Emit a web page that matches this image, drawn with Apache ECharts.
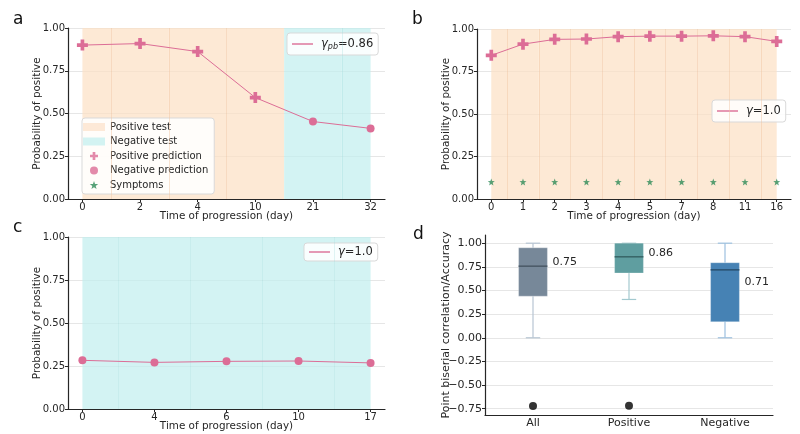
<!DOCTYPE html>
<html><head><meta charset="utf-8">
<script src="https://cdn.jsdelivr.net/npm/echarts@6/dist/echarts.min.js"></script>
<style>html,body{margin:0;padding:0;background:#fff}#c{width:800px;height:434px}</style>
</head><body><div id="c"></div>
<script>
// ---------- data ----------
// panel a
const daysA = ['0', '2', '4', '10', '21', '32'];
const probA = [0.900, 0.909, 0.862, 0.593, 0.453, 0.413];
const predA = ['pos', 'pos', 'pos', 'pos', 'neg', 'neg'];
const testA = ['pos', 'pos', 'pos', 'pos', 'neg', 'neg'];
const corrA = '0.86';
// panel b
const daysB = ['0', '1', '2', '3', '4', '5', '7', '8', '11', '16'];
const probB = [0.845, 0.911, 0.939, 0.941, 0.955, 0.958, 0.958, 0.960, 0.955, 0.927];
const predB = ['pos', 'pos', 'pos', 'pos', 'pos', 'pos', 'pos', 'pos', 'pos', 'pos'];
const testB = ['pos', 'pos', 'pos', 'pos', 'pos', 'pos', 'pos', 'pos', 'pos', 'pos'];
const symptomsB = [1, 1, 1, 1, 1, 1, 1, 1, 1, 1];
const corrB = '1.0';
// panel c
const daysC = ['0', '4', '6', '10', '17'];
const probC = [0.283, 0.271, 0.277, 0.279, 0.268];
const predC = ['neg', 'neg', 'neg', 'neg', 'neg'];
const testC = ['neg', 'neg', 'neg', 'neg', 'neg'];
const corrC = '1.0';
// panel d
const groupsD = ['All', 'Positive', 'Negative'];
const boxStatsD = [           // [min, Q1, median, Q3, max]
  [0.00, 0.44, 0.757, 0.951, 1.00],
  [0.405, 0.685, 0.856, 1.00, 1.00],
  [0.00, 0.17, 0.718, 0.793, 1.00]
];
const outliersD = [[-0.722], [-0.718], []];
const meanLabelsD = ['0.75', '0.86', '0.71'];
const meanLabelYD = [0.80, 0.898, 0.583];
const corrTicks = [-0.75, -0.5, -0.25, 0, 0.25, 0.5, 0.75, 1.0];
const SYMPTOM_Y = 0.1;

// ---------- styles ----------
const FONT = 'DejaVu Sans';
const PINK = '#dc6d96';
const GREEN = '#2e8b57';
const ORANGE = 'rgba(252,224,197,0.72)';
const CYAN = 'rgba(194,239,238,0.72)';
const EDGE = { pos: 'rgba(240,196,160,0.45)', neg: 'rgba(150,215,215,0.28)' };
const AX = '#262626';
const GRIDC = '#e6e6e6';
const PLUS = 'path://M-1,-3L1,-3L1,-1L3,-1L3,1L1,1L1,3L-1,3L-1,1L-3,1L-3,-1L-1,-1Z';
const STAR = 'path://M0,-10L2.35,-3.24L9.51,-3.09L3.8,1.24L5.88,8.09L0,4L-5.88,8.09L-3.8,1.24L-9.51,-3.09L-2.35,-3.24Z';
const boxColors = ['#778899', '#5f9ea0', '#4682b4'];
const medColors = ['#4a5866', '#386466', '#29506f'];
const whiskColors = ['#b7c5d3', '#a3c9cf', '#9dc0df'];

// ---------- helpers ----------
function spans(test) {
  const n = test.length, out = { pos: [], neg: [] };
  test.forEach((t, i) => {
    out[t].push([{ xAxis: Math.max(0, i - 0.5) }, { xAxis: Math.min(n - 1, i + 0.5) }]);
  });
  return out;
}
function edges(test) {
  const res = [];
  for (let i = 0; i < test.length - 1; i++) {
    if (test[i] === test[i + 1]) res.push({ xAxis: i + 0.5, lineStyle: { color: EDGE[test[i]] } });
  }
  return res;
}
function bgSeries(test, gi, name) {
  const sp = spans(test);
  const out = [];
  ['pos', 'neg'].forEach((k, j) => {
    out.push({
      type: 'line', name: gi === 0 ? (k === 'pos' ? 'Positive test' : 'Negative test') : name + k,
      xAxisIndex: gi, yAxisIndex: gi, data: [], color: k === 'pos' ? ORANGE : CYAN,
      silent: true, z: 1,
      markArea: { silent: true, itemStyle: { color: k === 'pos' ? ORANGE : CYAN, borderWidth: 0 }, data: sp[k] },
      markLine: j === 0 ? { silent: true, symbol: ['none', 'none'], label: { show: false },
        lineStyle: { type: 'solid', width: 1 }, data: edges(test) } : undefined
    });
  });
  return out;
}
function probSeries(prob, pred, gi) {
  return {
    type: 'line', name: 'prob' + gi, xAxisIndex: gi, yAxisIndex: gi, z: 5,
    color: PINK, lineStyle: { color: PINK, width: 1 },
    itemStyle: { color: PINK },
    data: prob.map((v, i) => ({
      value: [i, v],
      symbol: pred[i] === 'pos' ? PLUS : 'circle',
      symbolSize: pred[i] === 'pos' ? 11 : 8
    }))
  };
}
function xAxisFor(days, gi, pad) {
  const idx = days.map((d, i) => i);
  return {
    type: 'value', gridIndex: gi, min: -pad, max: days.length - 1 + pad,
    axisLine: { show: true, onZero: false, lineStyle: { color: AX, width: 1.2 } },
    axisTick: { show: true, customValues: idx, length: 3, lineStyle: { color: AX } },
    axisLabel: { customValues: idx, formatter: v => days[Math.round(v)], margin: 3,
      fontFamily: FONT, fontSize: 10, color: AX },
    splitLine: { show: false },
    name: 'Time of progression (day)', nameLocation: 'middle', nameGap: 12, nameMoveOverlap: false,
    nameTextStyle: { fontFamily: FONT, fontSize: 10.4, color: AX }
  };
}
function yAxisProb(gi) {
  return {
    type: 'value', gridIndex: gi, min: 0, max: 1, interval: 0.25,
    axisLine: { show: true, onZero: false, lineStyle: { color: AX, width: 1.2 } },
    axisTick: { show: true, length: 3, lineStyle: { color: AX } },
    axisLabel: { formatter: v => v.toFixed(2), margin: 3, fontFamily: FONT, fontSize: 10, color: AX },
    splitLine: { show: true, lineStyle: { color: GRIDC, width: 1 } },
    name: 'Probability of positive', nameLocation: 'middle', nameGap: 26, nameMoveOverlap: false,
    nameTextStyle: { fontFamily: FONT, fontSize: 10.4, color: AX }
  };
}
function gammaLegend(name, left, top, pad) {
  return {
    left: left, top: top, orient: 'vertical', padding: pad, selectedMode: false,
    itemWidth: 21, itemHeight: 2, itemGap: 0,
    backgroundColor: 'rgba(255,255,255,0.85)', borderColor: '#d9d9d9', borderWidth: 1, borderRadius: 3,
    data: [{ name: name, icon: 'rect' }],
    formatter: n => n === 'gA' ? '{g|γ}{s|pb}{t|=' + corrA + '}' : '{g|γ}{t|=' + (n === 'gB' ? corrB : corrC) + '}',
    textStyle: {
      fontFamily: FONT, fontSize: 11.5, color: AX, padding: [0, 0, 0, 3],
      rich: {
        g: { fontFamily: FONT, fontSize: 11.5, fontStyle: 'italic', color: AX },
        s: { fontFamily: FONT, fontSize: 8, fontStyle: 'italic', color: AX, padding: [6, 0, 0, 0] },
        t: { fontFamily: FONT, fontSize: 11.5, color: AX }
      }
    }
  };
}
function gammaSeries(name, gi) {
  return { type: 'line', name: name, xAxisIndex: gi, yAxisIndex: gi, data: [], symbol: 'none',
    color: 'rgba(220,109,150,0.7)', lineStyle: { color: 'rgba(220,109,150,0.7)', width: 2 } };
}

// ---------- chart ----------
const chart = echarts.init(document.getElementById('c'), null, { renderer: 'canvas' });
const series = [].concat(
  bgSeries(testA, 0, 'bgA'),
  bgSeries(testB, 1, 'bgB'),
  bgSeries(testC, 2, 'bgC'),
  [
    probSeries(probA, predA, 0),
    probSeries(probB, predB, 1),
    probSeries(probC, predC, 2),
    { type: 'scatter', name: 'Symptoms', xAxisIndex: 1, yAxisIndex: 1, z: 6, color: GREEN,
      symbol: STAR, symbolSize: 7, itemStyle: { color: GREEN },
      data: symptomsB.map((s, i) => s ? [i, SYMPTOM_Y] : null).filter(d => d) },
    { type: 'scatter', name: 'Positive prediction', xAxisIndex: 0, yAxisIndex: 0, data: [], symbol: PLUS, color: PINK },
    { type: 'scatter', name: 'Negative prediction', xAxisIndex: 0, yAxisIndex: 0, data: [], symbol: 'circle', color: PINK },
    gammaSeries('gA', 0), gammaSeries('gB', 1), gammaSeries('gC', 2),
    { type: 'custom', name: 'box', xAxisIndex: 3, yAxisIndex: 3, z: 4,
      data: boxStatsD.map((b, i) => [i].concat(b)),
      encode: { x: 0, y: [1, 2, 3, 4, 5] },
      renderItem: function (params, api) {
        const i = api.value(0);
        const v = [1, 2, 3, 4, 5].map(k => api.value(k));
        const bw = api.size([1, 0])[0] * 0.3;
        const cw = bw * 0.5;
        const x = api.coord([i, 0])[0];
        const y = val => api.coord([i, val])[1];
        const ws = { stroke: whiskColors[i], lineWidth: 1.2 };
        return { type: 'group', children: [
          { type: 'line', shape: { x1: x, y1: y(v[0]), x2: x, y2: y(v[1]) }, style: ws },
          { type: 'line', shape: { x1: x, y1: y(v[3]), x2: x, y2: y(v[4]) }, style: ws },
          { type: 'line', shape: { x1: x - cw / 2, y1: y(v[0]), x2: x + cw / 2, y2: y(v[0]) }, style: ws },
          { type: 'line', shape: { x1: x - cw / 2, y1: y(v[4]), x2: x + cw / 2, y2: y(v[4]) }, style: ws },
          { type: 'rect', shape: { x: x - bw / 2, y: y(v[3]), width: bw, height: y(v[1]) - y(v[3]) },
            style: { fill: boxColors[i], stroke: 'rgba(255,255,255,0.25)', lineWidth: 1 } },
          { type: 'line', shape: { x1: x - bw / 2, y1: y(v[2]), x2: x + bw / 2, y2: y(v[2]) },
            style: { stroke: medColors[i], lineWidth: 1.5 } }
        ] };
      }
    },
    { type: 'scatter', name: 'outliers', xAxisIndex: 3, yAxisIndex: 3, z: 6, symbol: 'circle', symbolSize: 8,
      itemStyle: { color: '#000' },
      data: [].concat(...outliersD.map((o, i) => o.map(v => [i, v]))) },
    { type: 'scatter', name: 'means', xAxisIndex: 3, yAxisIndex: 3, z: 7, symbolSize: 1,
      itemStyle: { color: 'rgba(0,0,0,0)' },
      data: meanLabelsD.map((t, i) => [i, meanLabelYD[i]]),
      label: { show: true, position: 'right', distance: 19, formatter: p => meanLabelsD[p.dataIndex],
        fontFamily: FONT, fontSize: 11, color: AX, opacity: 1 } }
  ]
);

const option = {
  animation: false,
  backgroundColor: '#fff',
  grid: [
    { left: 68, top: 28, width: 317, height: 171 },
    { left: 477, top: 29, width: 314, height: 170 },
    { left: 68, top: 237, width: 317, height: 172 },
    { left: 485, top: 235, width: 288, height: 180 }
  ],
  xAxis: [
    xAxisFor(daysA, 0, 0.25),
    xAxisFor(daysB, 1, 0.45),
    xAxisFor(daysC, 2, 0.2),
    { type: 'category', gridIndex: 3, data: groupsD, boundaryGap: true,
      axisLine: { show: true, onZero: false, lineStyle: { color: AX, width: 1.2 } },
      axisTick: { show: false },
      axisLabel: { margin: 3, fontFamily: FONT, fontSize: 11, color: AX },
      splitLine: { show: false } }
  ],
  yAxis: [
    yAxisProb(0), yAxisProb(1), yAxisProb(2),
    { type: 'value', gridIndex: 3, min: -0.8165, max: 1.0865,
      axisLine: { show: true, onZero: false, lineStyle: { color: AX, width: 1.2 } },
      axisTick: { show: true, length: 3, customValues: corrTicks, lineStyle: { color: AX } },
      axisLabel: { customValues: corrTicks, margin: 3,
        formatter: v => (v < 0 ? '\u2212' : '') + Math.abs(v).toFixed(2),
        fontFamily: FONT, fontSize: 11, color: AX },
      splitLine: { show: true, lineStyle: { color: GRIDC, width: 1 } },
      name: 'Point biserial correlation/Accuracy', nameLocation: 'middle', nameGap: 33, nameMoveOverlap: false,
      nameTextStyle: { fontFamily: FONT, fontSize: 11, color: AX } }
  ],
  legend: [
    { left: 82, top: 118, orient: 'vertical', padding: [3, 6, 3, 1], itemGap: 2.5,
      itemWidth: 22, itemHeight: 8, selectedMode: false,
      backgroundColor: 'rgba(255,255,255,0.88)', borderColor: '#d9d9d9', borderWidth: 1, borderRadius: 3,
      textStyle: { fontFamily: FONT, fontSize: 10, color: AX, lineHeight: 12 },
      data: [
        { name: 'Positive test', icon: 'rect', itemStyle: { color: '#fde9d7' } },
        { name: 'Negative test', icon: 'rect', itemStyle: { color: '#d3f3f2' } },
        { name: 'Positive prediction', icon: PLUS },
        { name: 'Negative prediction', icon: 'circle' },
        { name: 'Symptoms', icon: STAR }
      ] },
    gammaLegend('gA', 287, 33, [5, 5, 4, 5]),
    gammaLegend('gB', 712, 100, [5, 5, 5, 5]),
    gammaLegend('gC', 304, 243, [3, 5, 3, 5])
  ],
  graphic: [
    { type: 'text', left: 13, top: 11, style: { text: 'a', font: '17px "DejaVu Sans"', fill: '#111' } },
    { type: 'text', left: 412, top: 11, style: { text: 'b', font: '17px "DejaVu Sans"', fill: '#111' } },
    { type: 'text', left: 13, top: 219, style: { text: 'c', font: '17px "DejaVu Sans"', fill: '#111' } },
    { type: 'text', left: 413, top: 226, style: { text: 'd', font: '17px "DejaVu Sans"', fill: '#111' } }
  ],
  series: series
};
chart.setOption(option);
</script>
</body></html>
